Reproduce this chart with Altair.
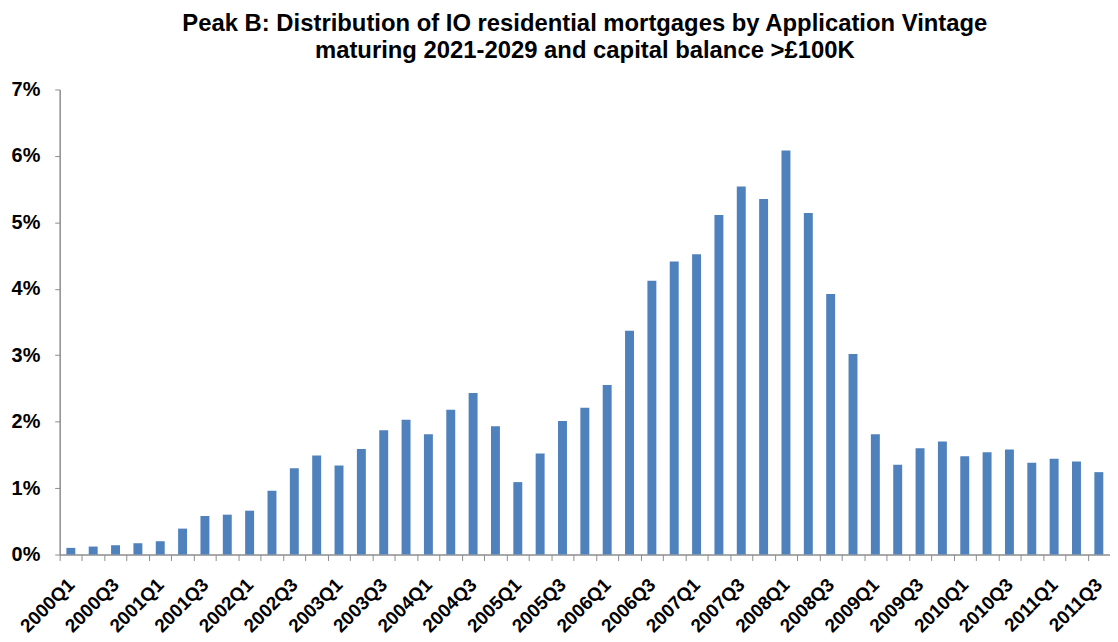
import altair as alt
import pandas as pd

quarters = [
    "2000Q1", "2000Q2", "2000Q3", "2000Q4",
    "2001Q1", "2001Q2", "2001Q3", "2001Q4",
    "2002Q1", "2002Q2", "2002Q3", "2002Q4",
    "2003Q1", "2003Q2", "2003Q3", "2003Q4",
    "2004Q1", "2004Q2", "2004Q3", "2004Q4",
    "2005Q1", "2005Q2", "2005Q3", "2005Q4",
    "2006Q1", "2006Q2", "2006Q3", "2006Q4",
    "2007Q1", "2007Q2", "2007Q3", "2007Q4",
    "2008Q1", "2008Q2", "2008Q3", "2008Q4",
    "2009Q1", "2009Q2", "2009Q3", "2009Q4",
    "2010Q1", "2010Q2", "2010Q3", "2010Q4",
    "2011Q1", "2011Q2", "2011Q3",
]

share_pct = [
    0.10, 0.12, 0.14, 0.17, 0.20, 0.39, 0.58, 0.60, 0.66, 0.96,
    1.30, 1.49, 1.34, 1.59, 1.87, 2.03, 1.81, 2.18, 2.43, 1.93,
    1.09, 1.52, 2.01, 2.21, 2.55, 3.37, 4.12, 4.41, 4.52, 5.11,
    5.54, 5.35, 6.08, 5.14, 3.92, 3.02, 1.81, 1.35, 1.60, 1.70,
    1.48, 1.54, 1.58, 1.38, 1.44, 1.40, 1.24,
]

y_ticks = [0, 1, 2, 3, 4, 5, 6, 7]

title_lines = [
    "Peak B: Distribution of IO residential mortgages by Application Vintage",
    "maturing 2021-2029 and capital balance >£100K",
]

df = pd.DataFrame({"quarter": quarters, "share": share_pct})

AXIS_GREY = "#8c8c8c"
FONT = "Liberation Sans"
HALF_STEP = 1057 / 47 / 2

chart = (
    alt.Chart(df)
    .mark_bar(color="#4F81BD")
    .encode(
        x=alt.X(
            "quarter:N",
            sort=quarters,
            scale=alt.Scale(paddingInner=0.6, paddingOuter=0.3),
            axis=alt.Axis(
                title=None,
                labelAngle=-45,
                labelAlign="right",
                labelBaseline="middle",
                labelPadding=21,
                labelOffset=HALF_STEP,
                labelFont=FONT,
                labelFontSize=19,
                labelFontWeight="bold",
                labelColor="#000000",
                labelOverlap=False,
                labelExpr="(slice(datum.value, 4) == 'Q1' || slice(datum.value, 4) == 'Q3') ? datum.value : ''",
                tickOffset=-HALF_STEP,
                tickSize=6,
                tickColor=AXIS_GREY,
                domainColor=AXIS_GREY,
                domainWidth=1.5,
                grid=False,
            ),
        ),
        y=alt.Y(
            "share:Q",
            scale=alt.Scale(domain=[0, 7], nice=False),
            axis=alt.Axis(
                title=None,
                values=y_ticks,
                labelExpr="datum.value + '%'",
                labelFont=FONT,
                labelFontSize=20,
                labelFontWeight="bold",
                labelColor="#000000",
                labelPadding=15,
                tickSize=5,
                tickColor=AXIS_GREY,
                domainColor=AXIS_GREY,
                domainWidth=1.5,
                grid=False,
                minExtent=52,
                maxExtent=52,
            ),
        ),
    )
    .properties(
        width=1057,
        height=468,
        padding={"left": 0, "top": 2, "right": 0, "bottom": 0},
        title=alt.TitleParams(
            text=title_lines,
            font=FONT,
            fontSize=24,
            fontWeight="bold",
            color="#000000",
            anchor="middle",
            lineHeight=27,
            offset=17,
        ),
    )
    .configure_view(stroke=None)
)

chart.save("out.html", embed_options={"renderer": "svg", "actions": False})
